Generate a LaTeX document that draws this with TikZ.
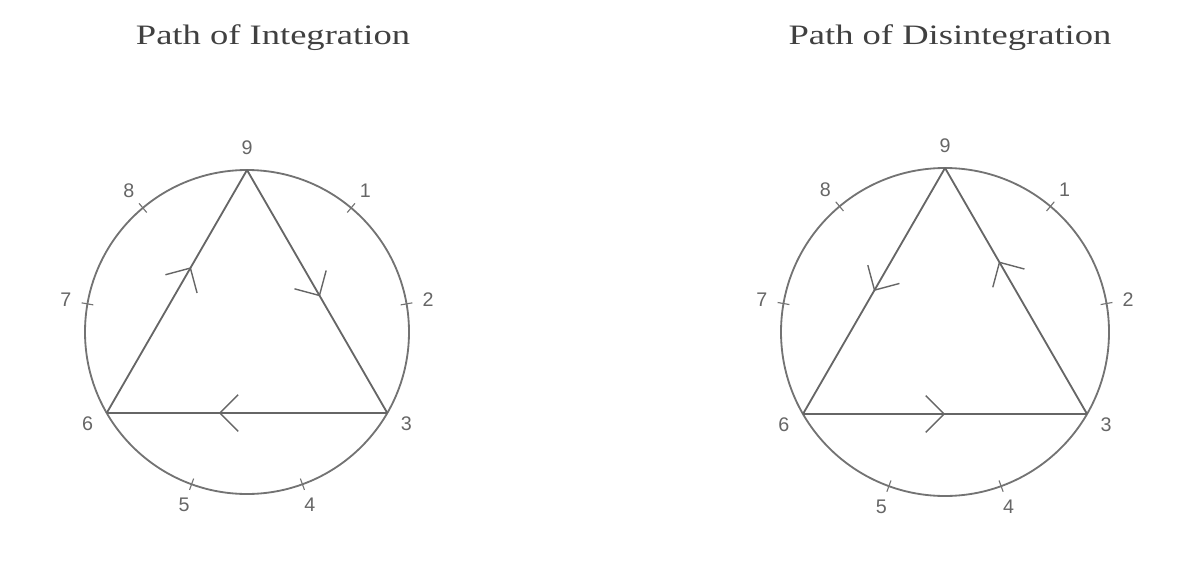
\documentclass[tikz,border=0pt]{standalone}
\usepackage{fontspec}
\setmainfont{Liberation Serif}
\newfontfamily\titelfont[FakeStretch=1.3]{Liberation Serif}
\newfontfamily\zahlfont{Liberation Sans}
\usetikzlibrary{arrows.meta,decorations.markings}

\tikzset{
  kreis/.style={draw=black!55, line width=1.3pt},
  kante/.style={draw=black!60, line width=1.3pt},
  strich/.style={draw=black!55, line width=0.8pt},
  pfeil/.style={postaction={decorate}, decoration={markings,
      mark=at position #1 with {\arrow{Straight Barb[length=13pt,width=26pt,line width=1pt,color=black!60]}}}},
  zahl/.style={font=\zahlfont\fontsize{14}{14}\selectfont, text=black!60, inner sep=0pt},
  titel/.style={font=\titelfont\fontsize{20}{22}\selectfont, text=black!75}
}

\begin{document}
\begin{tikzpicture}[x=0.025cm, y=0.025cm]
\useasboundingbox (0,0) rectangle (1187,567);
% Ueberschriften
\node[titel] (titelI) at (273,529) {Path of Integration};
\node[titel] (titelD) at (950,529) {Path of Disintegration};

% linker Kreis
\begin{scope}[shift={(247,235)}]
  \draw[kreis] (0,0) circle (162);
  \foreach \n in {1,...,9} {
    \coordinate (L\n) at (90-40*\n:162);
    \node[zahl] (Lz\n) at (90-40*\n:184) {\n};
  }
  \foreach \n in {1,2,4,5,7,8}
    \draw[strich] (90-40*\n:156) -- (90-40*\n:168); % Markierung
\end{scope}
\draw[kante, pfeil=0.6] (L6) -- (L9);
\draw[kante, pfeil=0.52] (L9) -- (L3);
\draw[kante, pfeil=0.6] (L3) -- (L6);

% rechter Kreis
\begin{scope}[shift={(945,235)}]
  \draw[kreis] (0,0) circle (164);
  \foreach \n in {1,...,9} {
    \coordinate (R\n) at (90-40*\n:164);
    \node[zahl] (Rz\n) at (90-40*\n:186) {\n};
  }
  \foreach \n in {1,2,4,5,7,8}
    \draw[strich] (90-40*\n:158) -- (90-40*\n:170); % Markierung
\end{scope}
\draw[kante, pfeil=0.5] (R9) -- (R6);
\draw[kante, pfeil=0.62] (R3) -- (R9);
\draw[kante, pfeil=0.5] (R6) -- (R3);
\end{tikzpicture}
\end{document}
